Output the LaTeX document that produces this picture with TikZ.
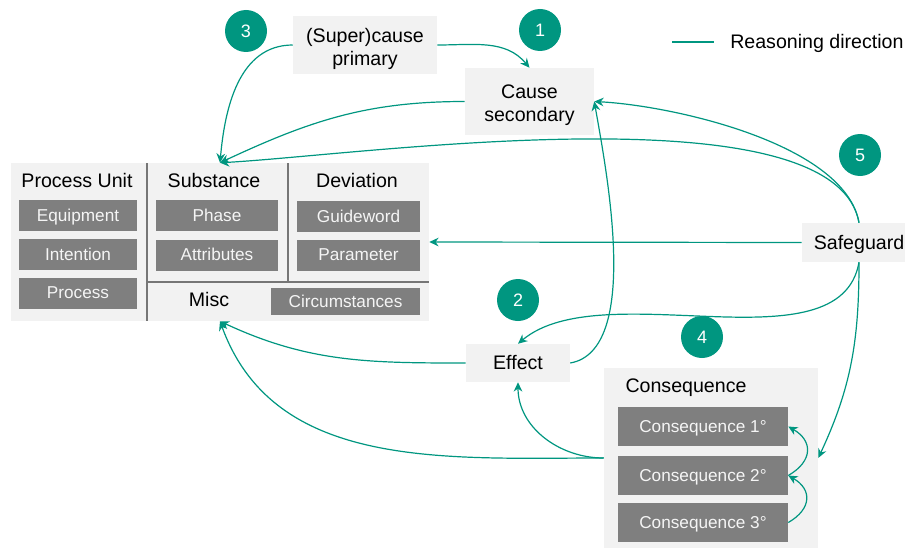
\documentclass[tikz,border=0pt]{standalone}
\usepackage{fontspec}
\setmainfont{Liberation Sans}
\usetikzlibrary{arrows.meta}

\definecolor{reason}{RGB}{0,150,128}
\definecolor{panelgray}{RGB}{242,242,242}
\definecolor{chipgray}{RGB}{127,127,127}
\definecolor{chiptext}{RGB}{245,245,245}
\definecolor{rulegray}{RGB}{118,118,118}

\newcommand{\bigfont}{\fontsize{14.7}{17.25}\selectfont}
\newcommand{\chipfont}{\fontsize{12.9}{15}\selectfont}
\newcommand{\badgefont}{\fontsize{13.5}{15}\selectfont}

\begin{document}
\begin{tikzpicture}[
  x=0.75pt, y=0.75pt,
  % text lines centred on their full line box (ascender to descender)
  bigline/.style={text height=13.3pt, text depth=3.12pt},
  chipline/.style={text height=11.67pt, text depth=2.73pt},
  twolines/.style={text height=33.7pt, text depth=3.12pt},
  panel/.style={fill=panelgray, draw=none, inner sep=0pt, align=center, font=\bigfont},
  chip/.style={fill=chipgray, text=chiptext, draw=none, inner sep=0pt,
    minimum height=23.25pt, font=\chipfont, chipline},
  caption/.style={inner sep=0pt, font=\bigfont, bigline},
  badge/.style={circle, fill=reason, text=white, draw=none, inner sep=0pt,
    minimum size=31.5pt, font=\badgefont},
  divider/.style={draw=rulegray, line width=1.1pt},
  flow/.style={draw=reason, line width=0.9pt, -{Stealth[length=7pt,width=6.5pt]}},
]
\useasboundingbox (0,0) rectangle (905,-549);

% ---- central HAZOP table -------------------------------------------------
\node[panel, minimum width=313.5pt, minimum height=118.5pt] (main) at (220,-242) {};
\draw[divider] (147,-163) -- (147,-321);
\draw[divider] (288,-163) -- (288,-282);
\draw[divider] (147,-282) -- (429,-282);

\node[caption] (lblunit) at (77,-181) {Process Unit};
\node[caption] (lblsub)  at (214,-181) {Substance};
\node[caption] (lbldev)  at (357,-181) {Deviation};
\node[caption] (lblmisc) at (209,-300) {Misc};

\node[chip, minimum width=88.5pt] (equip)  at (78,-215.5) {Equipment};
\node[chip, minimum width=88.5pt] (intent) at (78,-254.5) {Intention};
\node[chip, minimum width=88.5pt] (proc)   at (78,-293)   {Process};
\node[chip, minimum width=91.5pt] (phase)  at (217,-215.5) {Phase};
\node[chip, minimum width=91.5pt] (attr)   at (217,-255)   {Attributes};
\node[chip, minimum width=92.25pt] (guide) at (358.5,-216.5) {Guideword};
\node[chip, minimum width=92.25pt] (param) at (358.5,-255)   {Parameter};
\node[chip, minimum width=111.75pt, minimum height=20.25pt] (circ) at (345.5,-301.5) {Circumstances};

% ---- surrounding elements -------------------------------------------------
\node[panel, twolines, minimum width=108pt, minimum height=43.5pt] (sup) at (365,-45) {(Super)cause\\primary};
\node[panel, twolines, minimum width=96.75pt, minimum height=50.25pt] (cause) at (529.5,-101.5) {Cause\\secondary};
\node[panel, bigline, minimum width=85.5pt, minimum height=29.25pt] (safe) at (859,-242.5) {Safeguard};
\node[panel, bigline, minimum width=78pt, minimum height=28.5pt] (effect) at (518,-363) {Effect};

\node[panel, minimum width=160.5pt, minimum height=135pt] (cons) at (711,-458) {};
\node[caption] (lblcons) at (686,-386) {Consequence};
\node[chip, minimum width=127.5pt, minimum height=29.25pt] (c1) at (703,-426.5) {Consequence 1°};
\node[chip, minimum width=127.5pt, minimum height=29.25pt] (c2) at (703,-475.5) {Consequence 2°};
\node[chip, minimum width=127.5pt, minimum height=29.25pt] (c3) at (703,-522.5) {Consequence 3°};

% ---- step badges -----------------------------------------------------------
\node[badge] (b1) at (540,-30)  {1};
\node[badge] (b2) at (518,-300) {2};
\node[badge] (b3) at (246,-31)  {3};
\node[badge] (b4) at (702,-337) {4};
\node[badge] (b5) at (860,-155) {5};

% ---- legend ----------------------------------------------------------------
\coordinate (legA) at (672,-42);
\coordinate (legB) at (714,-42);
\draw[draw=reason, line width=0.9pt] (legA) -- (legB);
\node[caption, anchor=west] (legtext) at (730,-42) {Reasoning direction};

% ---- reasoning arrows --------------------------------------------------------
\draw[flow] (sup.east) to[out=0, in=130] (cause.north);
\draw[flow] (sup.west) to[out=180, in=85] (main.north);
\draw[flow] (cause.west) to[out=180, in=25] (main.north);
\draw[flow] (safe.north) to[out=100, in=3, looseness=0.55] (main.north);
\draw[flow] (safe.north) to[out=100, in=-3, looseness=0.7] (cause.east);
\draw[flow] (safe.west) -- (main.east);
\draw[flow] (safe.south) to[out=-100, in=40, looseness=0.8] (effect.north);
\draw[flow] (safe.south) to[out=-90, in=65] (cons.east);
\draw[flow] (effect.east) to[out=10, in=-80, looseness=0.7] (cause.east);
\draw[flow] (effect.west) to[out=180, in=-25] (main.south);
\draw[flow] (cons.west) to[out=180, in=-90] (effect.south);
\draw[flow] (cons.west) to[out=180, in=-70] (main.south);
\draw[flow] (c2.east) to[out=30, in=-30, looseness=1.5] (c1.east);
\draw[flow] (c3.east) to[out=30, in=-30, looseness=1.5] (c2.east);
\end{tikzpicture}
\end{document}
